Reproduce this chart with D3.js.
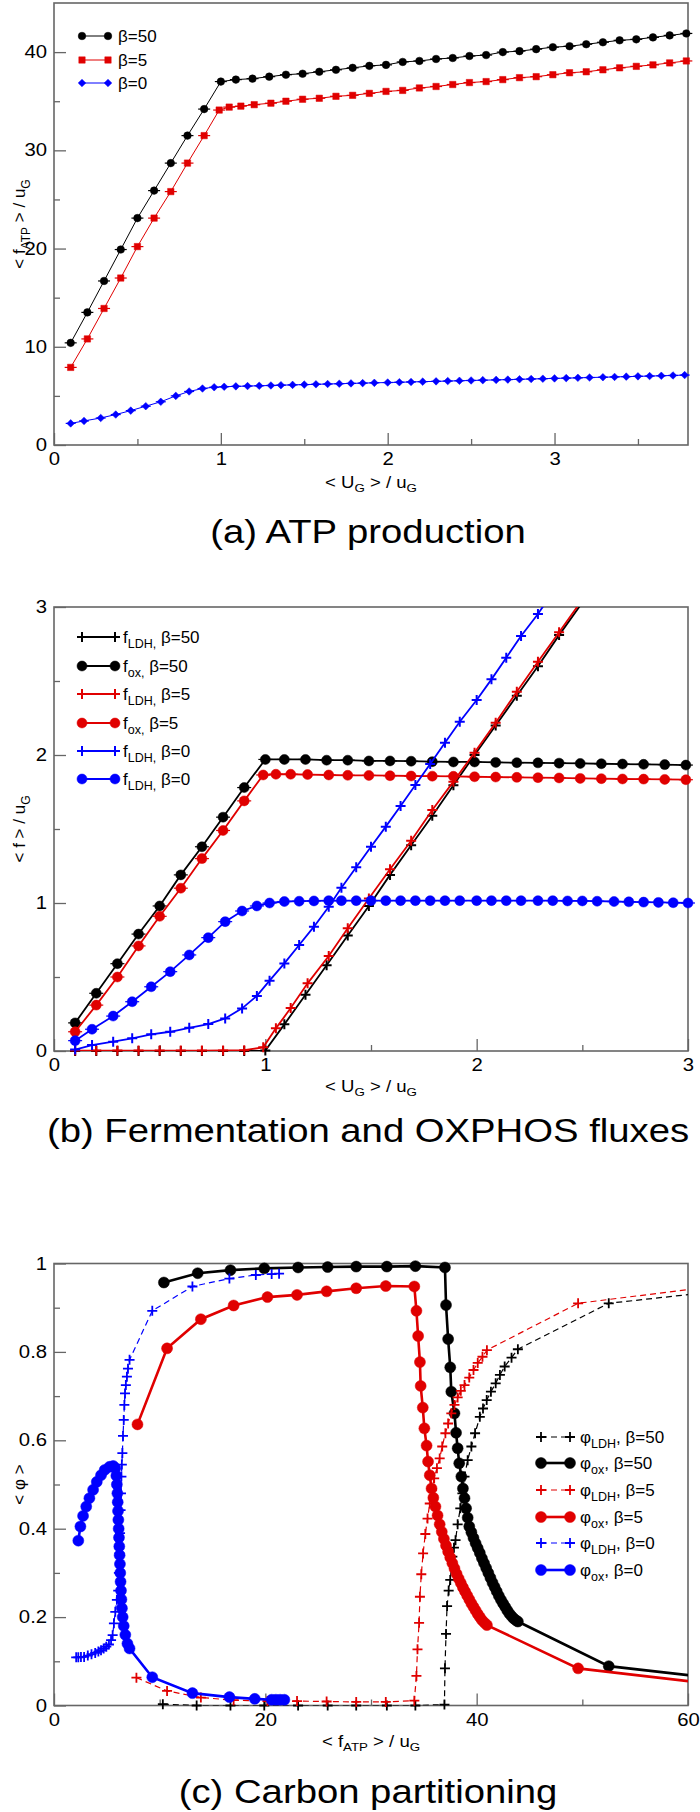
<!DOCTYPE html>
<html>
<head>
<meta charset="utf-8">
<script src="https://cdn.jsdelivr.net/npm/d3@7"></script>
<style>
  html, body { margin: 0; padding: 0; background: #fff; }
  svg { display: block; }
  text { font-family: "Liberation Sans", Arial, Helvetica, sans-serif; white-space: pre; }
</style>
</head>
<body>
<svg id="fig" width="700" height="1812"></svg>
<script>
// ---------- (a) ATP production ----------
const aTicksX = [0, 1, 2, 3];
const aMinorX = [0.5, 1.5, 2.5, 3.5];
const aTicksY = [0, 10, 20, 30, 40];
const aMinorY = [5, 15, 25, 35];

const ugA50 = [0.1,0.2,0.3,0.4,0.5,0.6,0.7,0.8,0.9,1.0,1.09,1.19,1.29,1.39,1.49,1.59,1.69,1.79,1.89,1.99,
  2.09,2.19,2.29,2.39,2.49,2.59,2.69,2.79,2.89,2.99,3.09,3.19,3.29,3.39,3.49,3.59,3.69,3.79];
const atp50 = [10.4,13.5,16.7,19.9,23.1,25.9,28.7,31.5,34.2,37.0,37.2,37.3,37.5,37.7,37.8,38.0,38.2,38.4,38.6,38.7,
  39.0,39.1,39.3,39.4,39.6,39.7,40.0,40.1,40.3,40.5,40.6,40.8,41.0,41.2,41.3,41.5,41.7,41.9];

const ugA5 = [0.1,0.2,0.3,0.4,0.5,0.6,0.7,0.8,0.9,0.99,1.05,1.12,1.2,1.3,1.39,1.49,1.59,1.69,1.79,1.89,1.99,
  2.09,2.19,2.29,2.39,2.49,2.59,2.69,2.79,2.89,2.99,3.09,3.19,3.29,3.39,3.49,3.59,3.69,3.79];
const atp5 = [7.9,10.8,13.9,17.0,20.2,23.1,25.8,28.7,31.5,34.1,34.4,34.5,34.65,34.8,35.0,35.2,35.3,35.5,35.6,35.8,36.0,
  36.1,36.35,36.5,36.7,36.9,37.0,37.2,37.4,37.5,37.7,37.9,38.0,38.2,38.4,38.55,38.7,38.9,39.1];

const ugA0 = [0.1,0.18,0.28,0.37,0.46,0.55,0.64,0.73,0.81,0.89,0.96,1.02,1.09,1.16,1.23,1.30,1.36,1.43,1.50,1.57,
  1.64,1.71,1.78,1.85,1.92,2.00,2.07,2.14,2.21,2.29,2.36,2.43,2.50,2.57,2.65,2.72,2.79,2.86,2.93,3.00,
  3.07,3.14,3.21,3.29,3.36,3.43,3.50,3.57,3.64,3.71,3.78];
const atp0 = [2.2,2.45,2.75,3.1,3.5,3.95,4.4,5.0,5.45,5.75,5.88,5.93,5.97,6.0,6.03,6.06,6.09,6.12,6.15,6.18,
  6.21,6.24,6.27,6.3,6.33,6.36,6.39,6.42,6.45,6.48,6.51,6.54,6.57,6.6,6.63,6.66,6.69,6.72,6.75,6.78,
  6.81,6.84,6.87,6.9,6.93,6.96,6.99,7.02,7.05,7.08,7.12];

// ---------- (b) fermentation / OXPHOS fluxes ----------
const bTicksX = [0, 1, 2, 3];
const bMinorX = [0.5, 1.5, 2.5];
const bTicksY = [0, 1, 2, 3];
const bMinorY = [0.5, 1.5, 2.5];

const ugB50 = [0.1,0.2,0.3,0.4,0.5,0.6,0.7,0.8,0.9,1.0,1.09,1.19,1.29,1.39,1.49,1.59,1.69,1.79,1.89,1.99,
  2.09,2.19,2.29,2.39,2.49,2.59,2.69,2.79,2.89,2.99];
const fox50 = [0.19,0.39,0.59,0.79,0.98,1.19,1.38,1.58,1.78,1.97,1.97,1.97,1.965,1.965,1.96,1.96,1.958,1.955,1.953,1.953,
  1.95,1.948,1.947,1.945,1.943,1.941,1.939,1.937,1.935,1.932];
const fldh50 = [0,0,0,0,0,0,0,0,0,0.003,0.18,0.38,0.58,0.78,0.98,1.19,1.39,1.59,1.795,2.0,
  2.2,2.4,2.6,2.81,3.01];

const ugB5 = [0.1,0.2,0.3,0.4,0.5,0.6,0.7,0.8,0.9,0.99,1.05,1.12,1.2,1.3,1.39,1.49,1.59,1.69,1.79,1.89,1.99,
  2.09,2.19,2.29,2.39,2.49,2.59,2.69,2.79,2.89,2.99];
const fox5 = [0.13,0.31,0.5,0.71,0.91,1.1,1.3,1.49,1.69,1.865,1.87,1.87,1.868,1.865,1.863,1.862,1.86,1.858,1.857,1.856,
  1.853,1.851,1.849,1.847,1.845,1.842,1.84,1.838,1.837,1.835,1.833];
const fldh5 = [0.003,0.003,0.003,0.003,0.003,0.003,0.003,0.004,0.005,0.025,0.153,0.29,0.457,0.642,0.829,1.03,1.228,1.42,1.628,1.82,
  2.016,2.218,2.428,2.63,2.83,3.03];

const ugB0 = [0.1,0.18,0.28,0.37,0.46,0.55,0.64,0.73,0.81,0.89,0.96,1.02,1.09,1.16,1.23,1.30,1.36,1.43,1.50,1.57,
  1.64,1.71,1.78,1.85,1.92,2.00,2.07,2.14,2.21,2.29,2.36,2.43,2.50,2.57,2.65,2.72,2.79,2.86,2.93,3.00];
const fox0 = [0.07,0.147,0.236,0.333,0.434,0.536,0.649,0.766,0.874,0.946,0.98,1.0,1.01,1.012,1.014,1.016,1.016,1.016,1.016,1.016,
  1.016,1.016,1.016,1.016,1.016,1.016,1.016,1.016,1.016,1.016,1.016,1.014,1.014,1.012,1.01,1.008,1.006,1.004,1.002,1.0];
const fldh0 = [0.01,0.04,0.063,0.086,0.113,0.13,0.157,0.182,0.22,0.288,0.372,0.475,0.592,0.716,0.84,0.975,1.103,1.241,1.38,1.516,
  1.655,1.797,1.939,2.083,2.225,2.372,2.511,2.657,2.804,2.953,3.1];

// ---------- (c) carbon partitioning ----------
const cTicksX = [0, 20, 40, 60];
const cMinorX = [10, 30, 50];
const cTicksY = [0, 0.2, 0.4, 0.6, 0.8, 1];
const cMinorY = [0.1, 0.3, 0.5, 0.7, 0.9];

const atpLdh50 = [10.3,13.5,16.7,19.9,23.1,25.9,28.6,31.5,34.2,36.95,37.0,37.1,37.2,37.35,37.5,37.7,37.85,38.0,38.2,38.45,
  38.65,38.85,39.15,39.5,39.85,40.3,40.6,40.95,41.35,41.8,42.2,42.65,43.3,43.9,52.5,64.0];
const phiLdh50 = [0.003,0.0,0.0,0.0,0.0,0.0,0.0,0.0,0.0,0.002,0.084,0.162,0.225,0.26,0.284,0.337,0.357,0.374,0.41,0.446,
  0.48,0.518,0.555,0.586,0.616,0.653,0.672,0.691,0.71,0.729,0.748,0.767,0.787,0.806,0.91,0.94];

const atpOx50 = [10.4,13.6,16.7,19.9,23.1,25.9,28.6,31.5,34.2,37.0,37.1,37.3,37.5,37.6,37.9,38.05,38.2,38.35,38.55,38.7,
  38.85,39.0,39.15,39.3,39.5,39.7,39.9,40.1,40.3,40.5,40.7,40.9,41.1,41.3,41.5,41.7,41.9,42.1,42.3,42.5,
  42.7,42.9,43.1,43.3,43.5,43.7,43.9,52.5,64.0];
const phiOx50 = [0.957,0.978,0.985,0.989,0.991,0.992,0.993,0.993,0.994,0.991,0.906,0.829,0.765,0.71,0.661,0.617,0.582,0.548,0.518,0.491,
  0.469,0.446,0.425,0.405,0.392,0.379,0.367,0.356,0.345,0.333,0.322,0.311,0.3,0.289,0.278,0.268,0.258,0.248,0.239,0.231,
  0.223,0.215,0.208,0.202,0.197,0.193,0.19,0.089,0.058];

const atpLdh5 = [7.8,10.7,13.9,17.0,20.2,23.0,25.8,28.6,31.4,34.1,34.3,34.4,34.55,34.63,34.76,34.93,35.14,35.35,35.56,35.77,
  35.98,36.24,36.5,36.74,37.04,37.3,37.6,37.9,38.2,38.5,38.85,39.3,39.7,40.1,40.55,40.97,49.6,64.0];
const phiLdh5 = [0.063,0.033,0.018,0.012,0.01,0.01,0.009,0.008,0.008,0.011,0.067,0.127,0.187,0.246,0.297,0.344,0.388,0.423,0.457,0.488,
  0.514,0.537,0.559,0.586,0.616,0.638,0.661,0.68,0.697,0.712,0.725,0.742,0.759,0.775,0.789,0.804,0.91,0.953];

const atpOx5 = [7.9,10.7,13.9,17.0,20.2,23.0,25.8,28.6,31.4,34.1,34.3,34.46,34.63,34.7,34.9,35.05,35.26,35.4,35.56,35.73,
  35.9,36.1,36.3,36.5,36.7,36.9,37.1,37.3,37.5,37.7,37.9,38.1,38.3,38.5,38.7,38.9,39.1,39.3,39.5,39.7,
  39.9,40.1,40.3,40.5,40.75,40.97,49.6,64.0];
const phiOx5 = [0.636,0.808,0.874,0.905,0.924,0.929,0.937,0.944,0.949,0.948,0.893,0.836,0.777,0.723,0.674,0.627,0.588,0.552,0.521,0.491,
  0.47,0.45,0.43,0.41,0.393,0.377,0.362,0.348,0.335,0.322,0.31,0.298,0.287,0.277,0.267,0.258,0.249,0.24,0.231,0.223,
  0.215,0.207,0.2,0.193,0.187,0.182,0.084,0.044];

const atpLdh0 = [2.1,2.3,2.55,2.85,3.2,3.55,3.9,4.2,4.45,4.7,4.95,5.2,5.4,5.55,5.67,5.8,5.95,6.08,6.14,6.2,
  6.25,6.3,6.34,6.38,6.42,6.47,6.53,6.6,6.66,6.72,6.8,6.9,7.0,7.15,9.3,13.1,16.6,19.1,20.6,21.3];
const phiLdh0 = [0.109,0.109,0.11,0.11,0.113,0.116,0.119,0.122,0.125,0.129,0.133,0.138,0.148,0.159,0.186,0.212,0.239,0.26,0.3,0.344,
  0.39,0.442,0.48,0.518,0.545,0.571,0.61,0.646,0.68,0.706,0.725,0.744,0.762,0.782,0.893,0.948,0.966,0.974,0.976,0.977];

const atpOx0 = [2.3,2.5,2.75,3.05,3.35,3.7,4.05,4.45,4.8,5.25,5.6,5.8,5.9,5.95,6.0,6.03,6.06,6.09,6.12,6.15,
  6.18,6.21,6.24,6.27,6.3,6.34,6.38,6.43,6.5,6.6,6.75,6.95,7.15,9.3,13.1,16.6,19.0,20.6,21.0,21.4,21.8];
const phiOx0 = [0.373,0.405,0.429,0.45,0.469,0.488,0.506,0.521,0.533,0.54,0.542,0.537,0.52,0.5,0.48,0.46,0.44,0.42,0.4,0.38,
  0.36,0.34,0.32,0.3,0.28,0.26,0.24,0.22,0.2,0.18,0.16,0.14,0.129,0.064,0.028,0.019,0.015,0.013,0.013,0.013,0.013];

// ---------- drawing ----------
const svg = d3.select('#fig');
const RED = '#e00000', BLUE = '#0000ff', BLACK = '#000000';
const FRAME = '#666';
const STRETCH = 1.16;     // text in the figure is a bit wider than Arial
const LEFT = 54, RIGHT = 688;

function markerPath(type, s) {
  if (type === 'plus') return `M${-s},0H${s}M0,${-s}V${s}`;
  if (type === 'square') return `M${-s},${-s}H${s}V${s}H${-s}Z`;
  if (type === 'diamond') return `M0,${-s}L${s},0L0,${s}L${-s},0Z`;
  return `M${s},0A${s},${s} 0 1,1 ${-s},0A${s},${s} 0 1,1 ${s},0Z`;
}

function addMarker(sel, s) {
  sel.append('path')
    .attr('d', markerPath(s.marker, s.size))
    .attr('fill', s.marker === 'plus' ? 'none' : s.color)
    .attr('stroke', s.color)
    .attr('stroke-width', s.marker === 'plus' ? s.msw : 0.5);
}

// text with subscripts, parts = [[string, isSub], ...]
function richText(text, parts, size, subSize, shift) {
  let cur = 0;
  parts.forEach(([t, isSub]) => {
    const target = isSub ? shift : 0;
    text.append('tspan').text(t)
      .attr('font-size', isSub ? subSize : size)
      .attr('dy', target - cur);
    cur = target;
  });
}

function drawPanel(p) {
  const x = d3.scaleLinear().domain(p.xDomain).range([LEFT, RIGHT]);
  const y = d3.scaleLinear().domain(p.yDomain).range([p.bottom, p.top]);
  const g = svg.append('g');

  g.append('clipPath').attr('id', p.id + '-clip')
    .append('rect')
    .attr('x', LEFT).attr('y', p.top)
    .attr('width', RIGHT - LEFT).attr('height', p.bottom - p.top);

  const fmt = d3.format('~g');
  g.append('g').attr('transform', `translate(0,${p.bottom})`)
    .call(d3.axisBottom(x).tickValues(p.xTicks).tickSizeInner(-12).tickSizeOuter(0).tickPadding(8).tickFormat(fmt));
  g.append('g').attr('transform', `translate(0,${p.bottom})`)
    .call(d3.axisBottom(x).tickValues(p.xMinor).tickSizeInner(-6).tickSizeOuter(0).tickFormat(''));
  g.append('g').attr('transform', `translate(${LEFT},0)`)
    .call(d3.axisLeft(y).tickValues(p.yTicks).tickSizeInner(-12).tickSizeOuter(0).tickPadding(6).tickFormat(fmt));
  g.append('g').attr('transform', `translate(${LEFT},0)`)
    .call(d3.axisLeft(y).tickValues(p.yMinor).tickSizeInner(-6).tickSizeOuter(0).tickFormat(''));

  g.selectAll('.domain').remove();
  g.selectAll('g').attr('font-size', null).attr('font-family', null);
  g.selectAll('.tick line').attr('stroke', FRAME).attr('stroke-width', 1.3);
  g.selectAll('.tick text')
    .attr('font-size', 17.5).attr('fill', '#000')
    .attr('transform', `scale(${STRETCH},1)`);

  g.append('rect')
    .attr('x', LEFT).attr('y', p.top)
    .attr('width', RIGHT - LEFT).attr('height', p.bottom - p.top)
    .attr('fill', 'none').attr('stroke', FRAME).attr('stroke-width', 1.6);

  const line = d3.line().x(d => x(d[0])).y(d => y(d[1]));
  p.series.forEach(s => {
    const pts = s.y.map((v, i) => [s.x[i], v]);
    const sg = g.append('g');
    sg.append('path').datum(pts)
      .attr('clip-path', `url(#${p.id}-clip)`)
      .attr('fill', 'none')
      .attr('stroke', s.color)
      .attr('stroke-width', s.lw)
      .attr('stroke-dasharray', s.dash || null)
      .attr('d', line);

    const inside = pts.filter(d => d[0] >= p.xDomain[0] && d[0] <= p.xDomain[1] &&
                                   d[1] >= p.yDomain[0] && d[1] <= p.yDomain[1]);
    const mk = sg.selectAll('g.mk').data(inside).join('g')
      .attr('class', 'mk')
      .attr('transform', d => `translate(${x(d[0])},${y(d[1])})`);
    if (s.whisker) {
      mk.append('path').attr('d', `M${-s.whisker},0H${s.whisker}`)
        .attr('stroke', s.color).attr('stroke-width', 1.2);
    }
    addMarker(mk, s);
  });

  // legend
  const lg = g.append('g');
  p.series.forEach((s, i) => {
    const ly = p.legend.ys[i];
    lg.append('line')
      .attr('x1', p.legend.x0).attr('x2', p.legend.x1)
      .attr('y1', ly).attr('y2', ly)
      .attr('stroke', s.color).attr('stroke-width', s.lw)
      .attr('stroke-dasharray', s.dash || null);
    [p.legend.x0, p.legend.x1].forEach(mx => {
      addMarker(lg.append('g').attr('transform', `translate(${mx},${ly})`), s);
    });
    const t = lg.append('text')
      .attr('x', p.legend.xt).attr('y', ly + 6);
    richText(t, s.label, 17, 12.5, 5);
  });

  // axis titles
  const xt = g.append('text')
    .attr('text-anchor', 'middle')
    .attr('transform', `translate(371,${p.xTitleY}) scale(${STRETCH},1)`);
  richText(xt, p.xTitle, 16, 11.5, 4);

  const ytY = (p.top + p.bottom) / 2;
  const yt = g.append('text')
    .attr('text-anchor', 'middle')
    .attr('transform', `translate(25,${ytY}) rotate(-90)`);
  richText(yt, p.yTitle, 17, 12, 4.5);

  // caption
  g.append('text')
    .attr('text-anchor', 'middle')
    .attr('font-size', 33)
    .attr('transform', `translate(368,${p.captionY}) scale(${STRETCH},1)`)
    .text(p.caption);
}

drawPanel({
  id: 'pa', top: 3, bottom: 445,
  xDomain: [0, 3.8], yDomain: [0, 45],
  xTicks: aTicksX, xMinor: aMinorX, yTicks: aTicksY, yMinor: aMinorY,
  series: [
    { x: ugA50, y: atp50, color: BLACK, marker: 'circle', size: 3.8, lw: 1, whisker: 6, label: [['β=50', 0]] },
    { x: ugA5, y: atp5, color: RED, marker: 'square', size: 3.2, lw: 1, whisker: 6, label: [['β=5', 0]] },
    { x: ugA0, y: atp0, color: BLUE, marker: 'diamond', size: 3.8, lw: 1, whisker: 5, label: [['β=0', 0]] },
  ],
  legend: { x0: 82, x1: 108, xt: 118, ys: [36, 60, 83] },
  xTitle: [['< U', 0], ['G', 1], [' > / u', 0], ['G', 1]], xTitleY: 488,
  yTitle: [['< f', 0], ['ATP', 1], [' > / u', 0], ['G', 1]],
  caption: '(a) ATP production', captionY: 543,
});

drawPanel({
  id: 'pb', top: 607, bottom: 1051,
  xDomain: [0, 3], yDomain: [0, 3],
  xTicks: bTicksX, xMinor: bMinorX, yTicks: bTicksY, yMinor: bMinorY,
  series: [
    { x: ugB50, y: fldh50, color: BLACK, marker: 'plus', size: 5, msw: 2, lw: 1.8, label: [['f', 0], ['LDH,', 1], [' β=50', 0]] },
    { x: ugB50, y: fox50, color: BLACK, marker: 'circle', size: 5, lw: 1.8, whisker: 7, label: [['f', 0], ['ox,', 1], [' β=50', 0]] },
    { x: ugB5, y: fldh5, color: RED, marker: 'plus', size: 5, msw: 2, lw: 1.8, label: [['f', 0], ['LDH,', 1], [' β=5', 0]] },
    { x: ugB5, y: fox5, color: RED, marker: 'circle', size: 5, lw: 1.8, whisker: 7, label: [['f', 0], ['ox,', 1], [' β=5', 0]] },
    { x: ugB0, y: fldh0, color: BLUE, marker: 'plus', size: 5, msw: 2, lw: 1.8, label: [['f', 0], ['LDH,', 1], [' β=0', 0]] },
    { x: ugB0, y: fox0, color: BLUE, marker: 'circle', size: 5, lw: 1.8, whisker: 7, label: [['f', 0], ['LDH,', 1], [' β=0', 0]] },
  ],
  legend: { x0: 82, x1: 115, xt: 123, ys: [637, 666, 694, 723, 751, 779] },
  xTitle: [['< U', 0], ['G', 1], [' > / u', 0], ['G', 1]], xTitleY: 1092,
  yTitle: [['< f > / u', 0], ['G', 1]],
  caption: '(b) Fermentation and OXPHOS fluxes', captionY: 1142,
});

drawPanel({
  id: 'pc', top: 1263.5, bottom: 1705.5,
  xDomain: [0, 60], yDomain: [0, 1],
  xTicks: cTicksX, xMinor: cMinorX, yTicks: cTicksY, yMinor: cMinorY,
  series: [
    { x: atpLdh50, y: phiLdh50, color: BLACK, marker: 'plus', size: 5, msw: 1.8, lw: 1.2, dash: '6,4', label: [['φ', 0], ['LDH', 1], [', β=50', 0]] },
    { x: atpOx50, y: phiOx50, color: BLACK, marker: 'circle', size: 5.5, lw: 2.6, label: [['φ', 0], ['ox', 1], [', β=50', 0]] },
    { x: atpLdh5, y: phiLdh5, color: RED, marker: 'plus', size: 5, msw: 1.8, lw: 1.2, dash: '6,4', label: [['φ', 0], ['LDH', 1], [', β=5', 0]] },
    { x: atpOx5, y: phiOx5, color: RED, marker: 'circle', size: 5.5, lw: 2.6, label: [['φ', 0], ['ox', 1], [', β=5', 0]] },
    { x: atpLdh0, y: phiLdh0, color: BLUE, marker: 'plus', size: 5, msw: 1.8, lw: 1.2, dash: '6,4', label: [['φ', 0], ['LDH', 1], [', β=0', 0]] },
    { x: atpOx0, y: phiOx0, color: BLUE, marker: 'circle', size: 5.5, lw: 2.6, label: [['φ', 0], ['ox', 1], [', β=0', 0]] },
  ],
  legend: { x0: 541, x1: 570, xt: 580, ys: [1437, 1463, 1490, 1517, 1543, 1570] },
  xTitle: [['< f', 0], ['ATP', 1], [' > / u', 0], ['G', 1]], xTitleY: 1747,
  yTitle: [['< φ >', 0]],
  caption: '(c) Carbon partitioning', captionY: 1803,
});
</script>
</body>
</html>
